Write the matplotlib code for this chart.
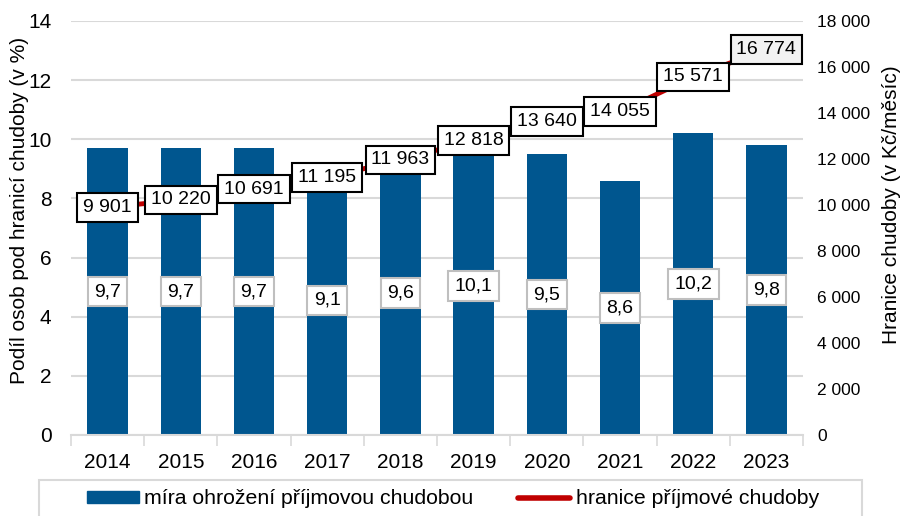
import matplotlib.pyplot as plt
import numpy as np
from matplotlib.ticker import FuncFormatter, MultipleLocator
from matplotlib.patches import Patch, Rectangle
from matplotlib.lines import Line2D

plt.rcParams['font.family'] = ['Liberation Sans', 'DejaVu Sans']

years = ["2014", "2015", "2016", "2017", "2018", "2019", "2020", "2021", "2022", "2023"]
rate = [9.7, 9.7, 9.7, 9.1, 9.6, 10.1, 9.5, 8.6, 10.2, 9.8]
threshold = [9901, 10220, 10691, 11195, 11963, 12818, 13640, 14055, 15571, 16774]

BLUE = "#00568f"
RED = "#c00000"
GRID = "#d9d9d9"

def czk(v):
    return f"{int(v):,}".replace(",", " ")

fig = plt.figure(figsize=(9.02, 5.16), dpi=100)
ax = fig.add_axes([71/902, 1-435/516, 732/902, 414/516])
ax2 = ax.twinx()

x = np.arange(len(years))
ax.bar(x, rate, width=0.55, color=BLUE, zorder=2)
for xi, v in zip(x, rate):
    ax.text(xi, v/2, f"{v:.1f}".replace(".", ","), ha="center", va="center", fontsize=14,
            bbox=dict(boxstyle="square,pad=0.33", fc="white", ec="#bfbfbf", lw=1.5), zorder=3)

ax.set_xlim(-0.5, len(years)-0.5)
ax.set_ylim(0, 14)
ax.yaxis.set_major_locator(MultipleLocator(2))
ax.set_xticks(x)
ax.set_xticklabels(years)
ax.set_xticks(np.arange(-0.5, len(years), 1), minor=True)
ax.tick_params(axis="x", which="major", length=0, labelsize=15, pad=13)
ax.tick_params(axis="x", which="minor", length=8, color=GRID, width=1.2)
ax.tick_params(axis="y", length=0, labelsize=15, pad=14)
ax.grid(axis="y", color=GRID, lw=1.5, zorder=0)
ax.set_axisbelow(True)
for s in ["top", "right", "left"]:
    ax.spines[s].set_visible(False)
ax.spines["bottom"].set_color(GRID)
ax.spines["bottom"].set_linewidth(1.5)
ax.set_ylabel("Podíl osob pod hranicí chudoby (v %)", fontsize=15)
ax.yaxis.set_label_coords(-0.057, 0.543)

ax2.plot(x, threshold, color=RED, lw=3.5, zorder=2)
for i, (xi, v) in enumerate(zip(x, threshold)):
    fc = "#f2f2f2" if i == len(x) - 1 else "white"
    ax2.text(xi, v, czk(v), ha="center", va="center", fontsize=14,
             bbox=dict(boxstyle="square,pad=0.3", fc=fc, ec="black", lw=1.5), zorder=3)
ax2.set_ylim(0, 18000)
ax2.yaxis.set_major_locator(MultipleLocator(2000))
ax2.yaxis.set_major_formatter(FuncFormatter(lambda v, p: czk(v)))
ax2.tick_params(axis="y", length=0, labelsize=12.5, pad=10)
for s in ax2.spines.values():
    s.set_visible(False)
ax2.set_ylabel("Hranice chudoby (v Kč/měsíc)", fontsize=15)
ax2.yaxis.set_label_coords(1.108, 0.556)

# legend: entries without frame, frame drawn separately (it runs off the bottom edge)
handles = [Patch(color=BLUE), Line2D([], [], color=RED, lw=4, solid_capstyle="round")]
labels = ["míra ohrožení příjmovou chudobou", "hranice příjmové chudoby"]
fig.legend(handles, labels, ncol=2, loc="center left",
           bbox_to_anchor=(87/902, 1-499/516), fontsize=15.3, frameon=False,
           borderpad=0, borderaxespad=0, columnspacing=2.1, handlelength=2.45,
           handleheight=0.5, handletextpad=0.25)
fig.patches.append(Rectangle((39/902, -0.05), 823/902, 1-480/516+0.05,
                             transform=fig.transFigure, fill=False, ec=GRID, lw=1.5))

fig.savefig("out.png", dpi=100)
